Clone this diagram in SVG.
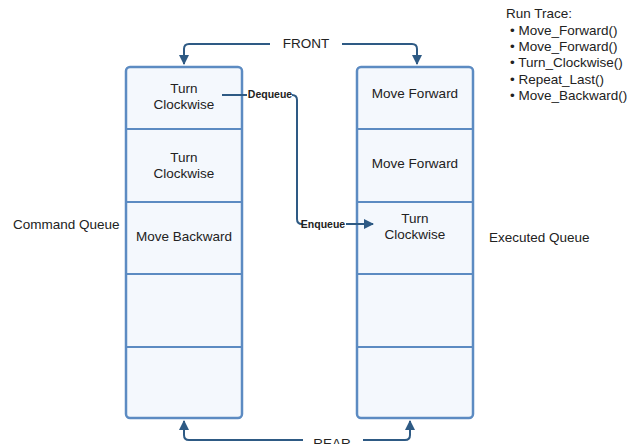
<svg xmlns="http://www.w3.org/2000/svg" width="636" height="444" viewBox="0 0 636 444">
<style>
.box{fill:#f4f8fd;stroke:#5c8bc2;stroke-width:2.5}
.div{stroke:#5c8bc2;stroke-width:2;fill:none}
.t{font-family:"Liberation Sans",Arial,sans-serif;font-size:13.5px;fill:#222;text-anchor:middle}
.tl{font-family:"Liberation Sans",Arial,sans-serif;font-size:13.5px;fill:#222}
.b{font-family:"Liberation Sans",Arial,sans-serif;font-size:10.5px;font-weight:bold;fill:#222;text-anchor:middle}
.c{stroke:#2e5a84;stroke-width:2;fill:none}
</style>
<defs>
<marker id="ah" viewBox="0 0 10 10" refX="9" refY="5" markerWidth="5" markerHeight="5" orient="auto"><path d="M0,0 L10,5 L0,10 z" fill="#2e5a84"/></marker>
</defs>
<rect width="636" height="444" fill="#fff"/>
<g id="command-queue">
<rect class="box" x="126" y="67" width="116" height="351" rx="4"/>
<path class="div" d="M126,129 H242 M126,202 H242 M126,274 H242 M126,347 H242"/>
<text class="t" x="184" y="93">Turn</text>
<text class="t" x="184" y="109">Clockwise</text>
<text class="t" x="184" y="162">Turn</text>
<text class="t" x="184" y="178">Clockwise</text>
<text class="t" x="184" y="241">Move Backward</text>
</g>
<g id="executed-queue">
<rect class="box" x="357" y="67" width="116" height="351" rx="4"/>
<path class="div" d="M357,129 H473 M357,202 H473 M357,274 H473 M357,347 H473"/>
<text class="t" x="415" y="98">Move Forward</text>
<text class="t" x="415" y="168">Move Forward</text>
<text class="t" x="415" y="223">Turn</text>
<text class="t" x="415" y="239">Clockwise</text>
</g>
<g id="connectors">
<path class="c" d="M270,44 H189 Q184,44 184,49 V64" marker-end="url(#ah)"/>
<path class="c" d="M342,44 H412 Q417,44 417,49 V64" marker-end="url(#ah)"/>
<path class="c" d="M303,440 H189 Q184,440 184,435 V421" marker-end="url(#ah)"/>
<path class="c" d="M363,440 H405 Q410,440 410,435 V421" marker-end="url(#ah)"/>
<path class="c" d="M222,95 H247"/>
<path class="c" d="M292,95 Q297,95 297,100 V219 Q297,224 302,224"/>
<path class="c" d="M346,224 H373" marker-end="url(#ah)"/>
<text class="t" x="306" y="48">FRONT</text>
<text class="t" x="332" y="448">REAR</text>
<text class="b" x="270" y="98">Dequeue</text>
<text class="b" x="323" y="228">Enqueue</text>
</g>
<g id="labels">
<text class="tl" x="13" y="229">Command Queue</text>
<text class="tl" x="489" y="242">Executed Queue</text>
</g>
<g id="run-trace">
<text class="tl" x="506" y="18">Run Trace:</text>
<text class="tl" x="510" y="35">• Move_Forward()</text>
<text class="tl" x="510" y="51">• Move_Forward()</text>
<text class="tl" x="510" y="67">• Turn_Clockwise()</text>
<text class="tl" x="510" y="84">• Repeat_Last()</text>
<text class="tl" x="510" y="100">• Move_Backward()</text>
</g>
</svg>
